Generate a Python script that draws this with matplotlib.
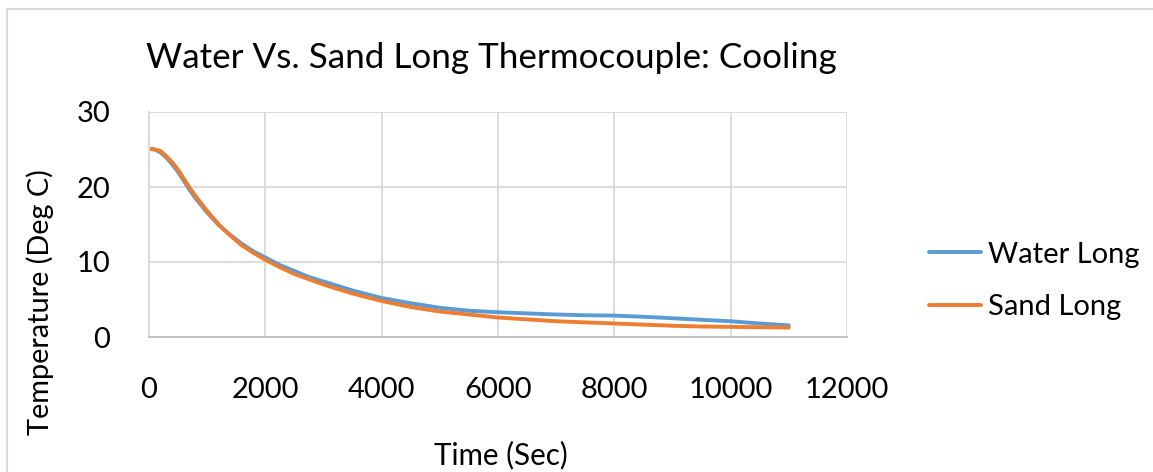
import matplotlib
matplotlib.use("Agg")
import matplotlib.pyplot as plt
from matplotlib.lines import Line2D

time_s = [0, 100, 200, 300, 400, 500, 600, 700, 800, 1000, 1200, 1400, 1600, 1800,
          2000, 2250, 2500, 2750, 3000, 3500, 4000, 4500, 5000, 5500, 6000, 6500,
          7000, 7500, 8000, 8500, 9000, 9500, 10000, 10500, 11000]
water_long = [25.1, 25.0, 24.6, 23.9, 23.0, 22.0, 20.8, 19.6, 18.5, 16.6, 14.9, 13.6,
              12.4, 11.4, 10.6, 9.6, 8.8, 8.0, 7.4, 6.2, 5.2, 4.5, 3.9, 3.5, 3.3, 3.15,
              3.0, 2.9, 2.85, 2.7, 2.5, 2.3, 2.1, 1.8, 1.55]
sand_long = [25.1, 25.0, 24.8, 24.1, 23.3, 22.3, 21.1, 19.9, 18.8, 16.8, 15.0, 13.5,
             12.2, 11.2, 10.3, 9.3, 8.4, 7.7, 7.0, 5.8, 4.8, 4.0, 3.4, 3.0, 2.6, 2.35,
             2.1, 1.95, 1.8, 1.65, 1.5, 1.4, 1.35, 1.3, 1.25]
x_ticks = [0, 2000, 4000, 6000, 8000, 10000, 12000]
y_ticks = [0, 10, 20, 30]

title = "Water Vs. Sand Long Thermocouple: Cooling"
xlabel = "Time (Sec)"
ylabel = "Temperature (Deg C)"

plt.rcParams['font.family'] = ['Lato', 'DejaVu Sans']

W, H = 1153, 472
fig = plt.figure(figsize=(W / 100, H / 100), dpi=100)
fig.patch.set_facecolor('white')

# chart frame
fig.add_artist(Line2D([7 / W, 7 / W], [0, 1 - 8.5 / H], transform=fig.transFigure,
                      color='#D9D9D9', lw=1.5))
fig.add_artist(Line2D([7 / W, 1], [1 - 8.5 / H, 1 - 8.5 / H], transform=fig.transFigure,
                      color='#D9D9D9', lw=1.5))

ax = fig.add_axes([149 / W, 1 - 337 / H, (847 - 149) / W, (337 - 112) / H])

blue = '#5B9BD5'
orange = '#ED7D31'
ax.plot(time_s, water_long, color=blue, lw=2.8, label='Water Long', solid_capstyle='round')
ax.plot(time_s, sand_long, color=orange, lw=2.8, label='Sand Long', solid_capstyle='round')

ax.set_xlim(0, 12000)
ax.set_ylim(0, 30)
ax.set_xticks(x_ticks)
ax.set_yticks(y_ticks)
ax.grid(True, color='#D9D9D9', lw=1.3)
ax.set_axisbelow(True)
for s in ['top', 'right']:
    ax.spines[s].set_visible(False)
ax.spines['left'].set_color('#D9D9D9')
ax.spines['left'].set_linewidth(1.3)
ax.spines['bottom'].set_color('#BFBFBF')
ax.spines['bottom'].set_linewidth(1.3)
ax.tick_params(length=0, labelsize=21, colors='black')
ax.tick_params(axis='y', pad=28)
ax.tick_params(axis='x', pad=29)
for lbl in ax.get_yticklabels():
    lbl.set_horizontalalignment('right')

fig.text(491 / W, 1 - 58 / H, title, fontsize=25.2, ha='center', va='center')
fig.text(501 / W, 1 - 455 / H, xlabel, fontsize=21.3, ha='center', va='center')
fig.text(40 / W, 1 - 302 / H, ylabel, fontsize=20.8, ha='center', va='center', rotation=90)

leg = ax.legend(loc='center left', bbox_to_anchor=(909 / W, 1 - 281 / H),
                bbox_transform=fig.transFigure, frameon=False, fontsize=21,
                handlelength=1.78, handletextpad=0.24, labelspacing=0.92,
                borderpad=0.2)

fig.savefig('out.png', dpi=100)
